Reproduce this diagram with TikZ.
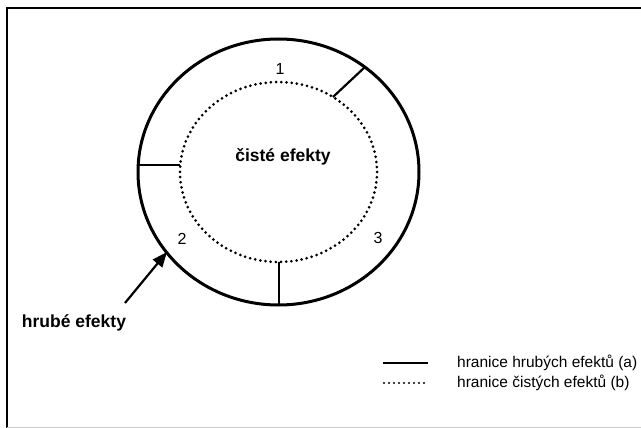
\documentclass[tikz,border=0pt]{standalone}
\usepackage{fontspec}
\setmainfont{Liberation Sans}
\usetikzlibrary{arrows.meta}
\begin{document}
\begin{tikzpicture}[x=1pt,y=-1pt,
  grossline/.style={line width=3pt},
  segline/.style={line width=2.2pt},
  netline/.style={line width=3pt,line cap=round,dash pattern=on 0pt off 5.2pt},
  lbl/.style={inner sep=0pt,font=\fontsize{16}{18}\selectfont},
  blbl/.style={inner sep=0pt,font=\fontsize{17.5}{20}\selectfont\bfseries},
  leg/.style={inner sep=0pt,anchor=west,font=\fontsize{15.5}{18}\selectfont}]
\useasboundingbox (0,0) rectangle (641,428);
\fill[white] (0,0) rectangle (641,428);
% frame
\draw[line width=1.6pt] (7,428) -- (7,8) -- (641,8);
\draw[line width=0.8pt,black!20] (7,427) -- (641,427);
% circles
\coordinate (c) at (278.5,172);
\draw[grossline] (c) ellipse [x radius=140.5, y radius=133];
\draw[netline] (c) ellipse [x radius=98.5, y radius=90];
% segment boundaries
\coordinate (o1) at (365,67);  \coordinate (i1) at (333,97);
\coordinate (o2) at (138,165); \coordinate (i2) at (180,165);
\coordinate (o3) at (279,305); \coordinate (i3) at (279,262);
\draw[segline] (i1) -- (o1);
\draw[segline] (i2) -- (o2);
\draw[segline] (i3) -- (o3);
% labels
\node[lbl] (n1) at (280,69) {1};
\node[lbl] (n2) at (182,239) {2};
\node[lbl] (n3) at (378,238) {3};
\node[blbl] (net) at (283,157) {čisté efekty};
\node[blbl] (gross) at (74,323) {hrubé efekty};
% arrow
\coordinate (tip) at (167,252);
\coordinate (tail) at (125,303);
\draw[line width=2.2pt,-{Triangle[length=15pt,width=12pt]}] (tail) -- (tip);
% legend
\coordinate (la1) at (383,363); \coordinate (la2) at (428,363);
\coordinate (lb1) at (384,383); \coordinate (lb2) at (428,383);
\draw[line width=2.8pt] (la1) -- (la2);
\draw[line width=2.4pt,line cap=round,dash pattern=on 0pt off 5pt] (lb1) -- (lb2);
\node[leg] (ta) at (457,363) {hranice hrubých efektů (a)};
\node[leg] (tb) at (457,383) {hranice čistých efektů (b)};
\end{tikzpicture}
\end{document}
